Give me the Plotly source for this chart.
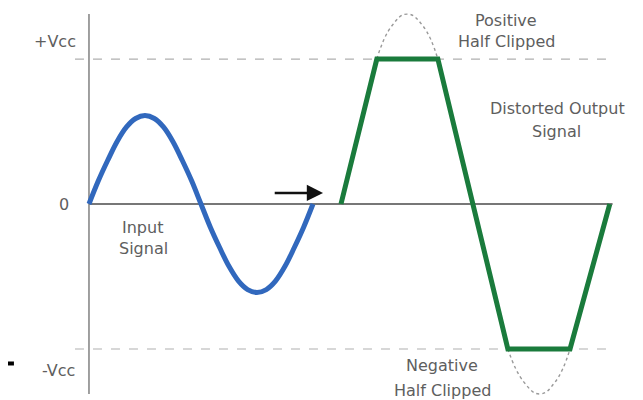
"""
Clipping diagram: input sine vs distorted (clipped) output
"""
import plotly.graph_objects as go

# input signal (blue), time units / supply units (Vcc = 1)
input_t = [0, 0.167, 0.333, 0.5, 0.667, 0.833, 1, 1.167, 1.333, 1.5, 1.667, 1.833,
           2, 2.167, 2.333, 2.5, 2.667, 2.833, 3, 3.167, 3.333, 3.5, 3.667, 3.833, 4]
input_v = [0, 0.16, 0.30, 0.43, 0.53, 0.59, 0.61, 0.59, 0.53, 0.43, 0.30, 0.16,
           0, -0.16, -0.30, -0.43, -0.53, -0.59, -0.61, -0.59, -0.53, -0.43, -0.30, -0.16, 0]

# clipped output (green)
output_t = [4.5, 5.14, 6.23, 7.48, 8.59, 9.3]
output_v = [0, 1, 1, -1, -1, 0]

# the part of the output that was clipped off (dotted)
clip_top_t = [5.14, 5.41, 5.68, 5.96, 6.23]
clip_top_v = [1, 1.23, 1.31, 1.23, 1]
clip_bot_t = [7.48, 7.77, 8.05, 8.32, 8.59]
clip_bot_v = [-1, -1.23, -1.31, -1.23, -1]

# supply rails
rail_levels = [1, -1]
rail_labels = ["+Vcc", "-Vcc"]

TEXT = dict(family="DejaVu Sans", size=16, color="#5e5e5e")

fig = go.Figure()

# rails (dashed)
for lvl in rail_levels:
    fig.add_trace(go.Scatter(
        x=[-0.25, 9.35], y=[lvl, lvl],
        mode='lines',
        line=dict(color='#b0b0b0', width=1.2, dash='dash'),
        hoverinfo='skip'
    ))

# zero line and vertical axis
fig.add_trace(go.Scatter(
    x=[0, 9.35], y=[0, 0], mode='lines',
    line=dict(color='#4a4a4a', width=1.5), hoverinfo='skip'
))
fig.add_trace(go.Scatter(
    x=[0, 0], y=[1.31, -1.31], mode='lines',
    line=dict(color='#808080', width=1.5), hoverinfo='skip'
))

# clipped-off parts
fig.add_trace(go.Scatter(
    x=clip_top_t, y=clip_top_v, mode='lines',
    line_shape='spline', line_smoothing=1.3,
    line=dict(color='#999999', width=1.4, dash='dot'), hoverinfo='skip'
))
fig.add_trace(go.Scatter(
    x=clip_bot_t, y=clip_bot_v, mode='lines',
    line_shape='spline', line_smoothing=1.3,
    line=dict(color='#999999', width=1.4, dash='dot'), hoverinfo='skip'
))

# input
fig.add_trace(go.Scatter(
    x=input_t, y=input_v, mode='lines',
    line_shape='spline', line_smoothing=1.0,
    line=dict(color='#3168bd', width=5), name='Input Signal'
))

# output
fig.add_trace(go.Scatter(
    x=output_t, y=output_v, mode='lines',
    line=dict(color='#1a7b3c', width=5), name='Distorted Output'
))

# stray mark at the left edge
fig.add_trace(go.Scatter(
    x=[-1.6, -1.34], y=[-1.1, -1.1], mode='lines',
    line=dict(color='#000000', width=4), hoverinfo='skip'
))

# arrow
fig.add_annotation(
    x=4.18, y=0.076, ax=3.29, ay=0.076,
    xref='x', yref='y', axref='x', ayref='y',
    text='', showarrow=True, arrowhead=2, arrowsize=1.3,
    arrowwidth=2.5, arrowcolor='#111111'
)

# rail / zero labels, right-aligned next to the axis
for x, y, t in [(-0.196, 1.124, rail_labels[0]),
                (-0.321, 0.0, "0"),
                (-0.214, -1.145, rail_labels[1])]:
    fig.add_annotation(x=x, y=y, text=t, showarrow=False, xanchor='right',
                       xref='x', yref='y', font=TEXT)

# descriptive labels
labels = [
    (7.45, 1.269, "Positive"),
    (7.45, 1.124, "Half Clipped"),
    (8.36, 0.662, "Distorted Output"),
    (8.34, 0.50, "Signal"),
    (0.95, -0.159, "Input"),
    (0.98, -0.31, "Signal"),
    (6.30, -1.117, "Negative"),
    (6.32, -1.283, "Half Clipped"),
]
for x, y, t in labels:
    fig.add_annotation(x=x, y=y, text=t, showarrow=False,
                       xref='x', yref='y', font=TEXT)

# ranges include the 8px page offset the browser adds around the plot
fig.update_layout(
    width=643, height=400,
    margin=dict(l=0, r=0, t=0, b=0),
    showlegend=False,
    plot_bgcolor='white',
    paper_bgcolor='white',
    xaxis=dict(range=[-1.446, 10.036], visible=False, fixedrange=True),
    yaxis=dict(range=[-1.407, 1.352], visible=False, fixedrange=True),
)

fig.write_html("out.html")
